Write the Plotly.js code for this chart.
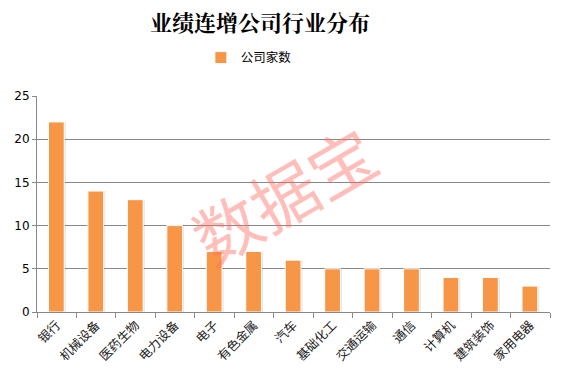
<!DOCTYPE html>
<html><head><meta charset="utf-8">
<script src="https://cdn.plot.ly/plotly-3.0.1.min.js"></script>
<style>html,body{margin:0;padding:0;background:#fff}#c{width:567px;height:391px}</style>
</head><body><div id="c"></div>
<script>
const categories = ["银行","机械设备","医药生物","电力设备","电子","有色金属","汽车","基础化工","交通运输","通信","计算机","建筑装饰","家用电器"];
const counts = [22,14,13,10,7,7,6,5,5,5,4,4,3];
const seriesName = "公司家数";
const yTicks = [0,5,10,15,20,25];

const shadow = {
  type: "bar", x: categories, y: counts, width: 0.42, offset: -0.19,
  marker: {color: "rgba(0,0,0,0.10)", line: {width: 0}},
  showlegend: false, hoverinfo: "skip"
};
const bars = {
  type: "bar", x: categories, y: counts, name: seriesName, width: 0.40, offset: -0.21,
  marker: {color: "#F79646", line: {color: "#ffffff", width: 1}}
};
const layout = {
  width: 567, height: 391,
  margin: {l: 37, r: 17, t: 96, b: 79},
  paper_bgcolor: "#fff", plot_bgcolor: "#fff",
  barmode: "overlay",
  font: {family: "Noto Sans CJK SC, sans-serif", size: 12, color: "#000"},
  title: {text: "业绩连增公司行业分布", x: 260/567, xanchor: "center", y: 0.94, yanchor: "middle",
          font: {family: "Noto Serif CJK SC, Noto Sans CJK SC, serif", size: 22, color: "#000", weight: "bold"}},
  showlegend: true,
  legend: {orientation: "h", x: 0.413, xanchor: "center", y: 1.176, yanchor: "middle",
           font: {size: 12.5, color: "#000"}, itemwidth: 30},
  xaxis: {type: "category", tickson: "boundaries", ticks: "outside", ticklen: 5, tickcolor: "#888",
          showline: true, linecolor: "#888", linewidth: 1, tickangle: -45,
          tickfont: {size: 12.5, color: "#222"}, showgrid: false, fixedrange: true},
  yaxis: {range: [0, 25], tickvals: yTicks, ticks: "outside", ticklen: 4, tickcolor: "#888",
          showline: true, linecolor: "#888", linewidth: 1, showgrid: true, gridcolor: "#888", gridwidth: 1,
          tickfont: {size: 12, color: "#000", family: "DejaVu Sans, sans-serif"}, zeroline: false, fixedrange: true},
  annotations: [{text: "数据宝", xref: "paper", yref: "paper", x: 0.48, y: 0.55, showarrow: false,
                 textangle: -30, font: {size: 66, color: "rgba(255,110,100,0.45)", family: "Noto Sans CJK SC"}}]
};
Plotly.newPlot("c", [shadow, bars], layout, {displayModeBar: false, staticPlot: true});
</script></body></html>
